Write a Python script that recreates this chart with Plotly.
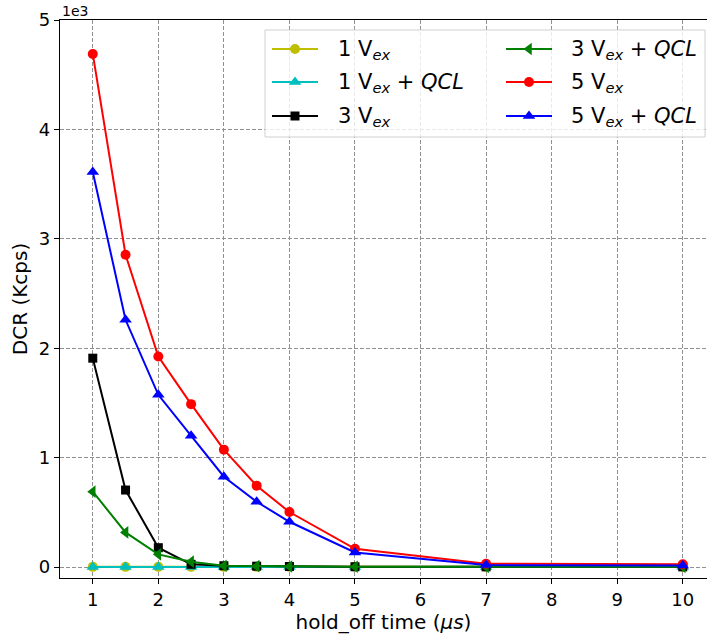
import plotly.graph_objects as go

# hold-off time (µs) and dark count rate (x1e3 Kcps) per bias / quenching setup
hold_off = [1, 1.5, 2, 2.5, 3, 3.5, 4, 5, 7, 10]

dcr_1v = [0.002, 0.002, 0.002, 0.002, 0.002, 0.002, 0.002, 0.002, 0.002, 0.002]
dcr_1v_qcl = [0.001, 0.001, 0.001, 0.001, 0.001, 0.001, 0.001, 0.001, 0.001, 0.001]
dcr_3v = [1.909, 0.704, 0.177, 0.025, 0.012, 0.008, 0.005, 0.003, 0.002, 0.002]
dcr_3v_qcl = [0.689, 0.317, 0.116, 0.049, 0.012, 0.008, 0.005, 0.003, 0.002, 0.002]
dcr_5v = [4.69, 2.855, 1.924, 1.489, 1.073, 0.744, 0.503, 0.167, 0.03, 0.025]
dcr_5v_qcl = [3.61, 2.26, 1.574, 1.199, 0.826, 0.597, 0.414, 0.134, 0.018, 0.015]

x_ticks = [1, 2, 3, 4, 5, 6, 7, 8, 9, 10]
y_ticks = [0, 1, 2, 3, 4, 5]

series_names = [
    "1 V<sub><i>ex</i></sub>",
    "1 V<sub><i>ex</i></sub> + <i>QCL</i>",
    "3 V<sub><i>ex</i></sub>",
    "3 V<sub><i>ex</i></sub> + <i>QCL</i>",
    "5 V<sub><i>ex</i></sub>",
    "5 V<sub><i>ex</i></sub> + <i>QCL</i>",
]
series_values = [dcr_1v, dcr_1v_qcl, dcr_3v, dcr_3v_qcl, dcr_5v, dcr_5v_qcl]
series_colors = ["#bfbf00", "#00bfbf", "#000000", "#008000", "#ff0000", "#0000ff"]
series_symbols = ["circle", "triangle-up", "square", "triangle-left", "circle", "triangle-up"]
series_sizes = [10, 11, 9, 11, 10, 11]

font = "DejaVu Sans"
fig = go.Figure()

for name, vals, color, symbol, size in zip(series_names, series_values, series_colors,
                                           series_symbols, series_sizes):
    fig.add_trace(go.Scatter(
        x=hold_off, y=vals, name=name, mode="lines+markers",
        line=dict(color=color, width=2),
        marker=dict(symbol=symbol, size=size, color=color, line=dict(width=0)),
        showlegend=False,
    ))

# Legend drawn on a pixel-scaled overlay axis pair (x2/y2) spanning the plot area,
# laid out in two columns of three entries.
PLOT_L, PLOT_R, PLOT_T, PLOT_B = 60, 707, 20, 578
col_line_x = [272, 506]
col_text_x = [336, 569]
row_y = [49, 82, 116]
handle_len = 46

annotations = []
for i, (name, color, symbol, size) in enumerate(zip(series_names, series_colors,
                                                    series_symbols, series_sizes)):
    col, row = divmod(i, 3)
    x0 = col_line_x[col]
    y0 = row_y[row]
    fig.add_trace(go.Scatter(
        x=[x0, x0 + handle_len], y=[y0, y0], mode="lines",
        line=dict(color=color, width=2), xaxis="x2", yaxis="y2",
        showlegend=False, hoverinfo="skip",
    ))
    fig.add_trace(go.Scatter(
        x=[x0 + handle_len / 2], y=[y0], mode="markers",
        marker=dict(symbol=symbol, size=size, color=color, line=dict(width=0)),
        xaxis="x2", yaxis="y2", showlegend=False, hoverinfo="skip",
    ))
    annotations.append(dict(
        text=name, x=col_text_x[col], y=y0, xref="x2", yref="y2",
        xanchor="left", yanchor="middle", showarrow=False, yshift=-1,
        font=dict(family=font, size=21, color="black"),
    ))

annotations.append(dict(
    text="1e3", x=0, y=1, xref="paper", yref="paper",
    xanchor="left", yanchor="bottom", showarrow=False, yshift=-1,
    font=dict(family=font, size=14, color="black"),
))

# legend frame: semi-transparent white, above grid but below the curves
x_per_px = (10.37 - 0.5) / (PLOT_R - PLOT_L)
y_per_px = (5 - (-0.1)) / (PLOT_B - PLOT_T)
shapes = [dict(
    type="rect", xref="x", yref="y", layer="between",
    x0=0.5 + (265 - PLOT_L) * x_per_px, x1=0.5 + (705 - PLOT_L) * x_per_px,
    y0=5 - (30 - PLOT_T) * y_per_px, y1=5 - (137 - PLOT_T) * y_per_px,
    fillcolor="rgba(255,255,255,0.8)", line=dict(color="#d0d0d0", width=1),
)]

grid = dict(showgrid=True, gridcolor="#909090", griddash="4px,2px", gridwidth=1)

fig.update_layout(
    width=707, height=637,
    margin=dict(l=PLOT_L, r=0, t=PLOT_T, b=637 - PLOT_B),
    paper_bgcolor="white", plot_bgcolor="white",
    font=dict(family=font, size=18, color="black"),
    showlegend=False,
    xaxis=dict(
        range=[0.5, 10.37], tickvals=x_ticks, ticktext=[str(v) for v in x_ticks],
        showline=True, linecolor="black", linewidth=1.3, mirror=True,
        ticks="outside", ticklen=5, tickcolor="black", zeroline=False,
        title=dict(text="hold_off time (<i>μs</i>)", font=dict(size=20), standoff=4),
        **grid,
    ),
    yaxis=dict(
        range=[-0.1, 5], tickvals=y_ticks, ticktext=[str(v) for v in y_ticks],
        showline=True, linecolor="black", linewidth=1.3,
        ticks="outside", ticklen=5, tickcolor="black", zeroline=False,
        title=dict(text="DCR (Kcps)", font=dict(size=20), standoff=5),
        **grid,
    ),
    xaxis2=dict(overlaying="x", anchor="y2", range=[PLOT_L, PLOT_R], visible=False,
                showgrid=False, zeroline=False),
    yaxis2=dict(overlaying="y", anchor="x2", range=[PLOT_B, PLOT_T], visible=False,
                showgrid=False, zeroline=False),
    annotations=annotations,
    shapes=shapes,
)

fig.write_html("out.html")
